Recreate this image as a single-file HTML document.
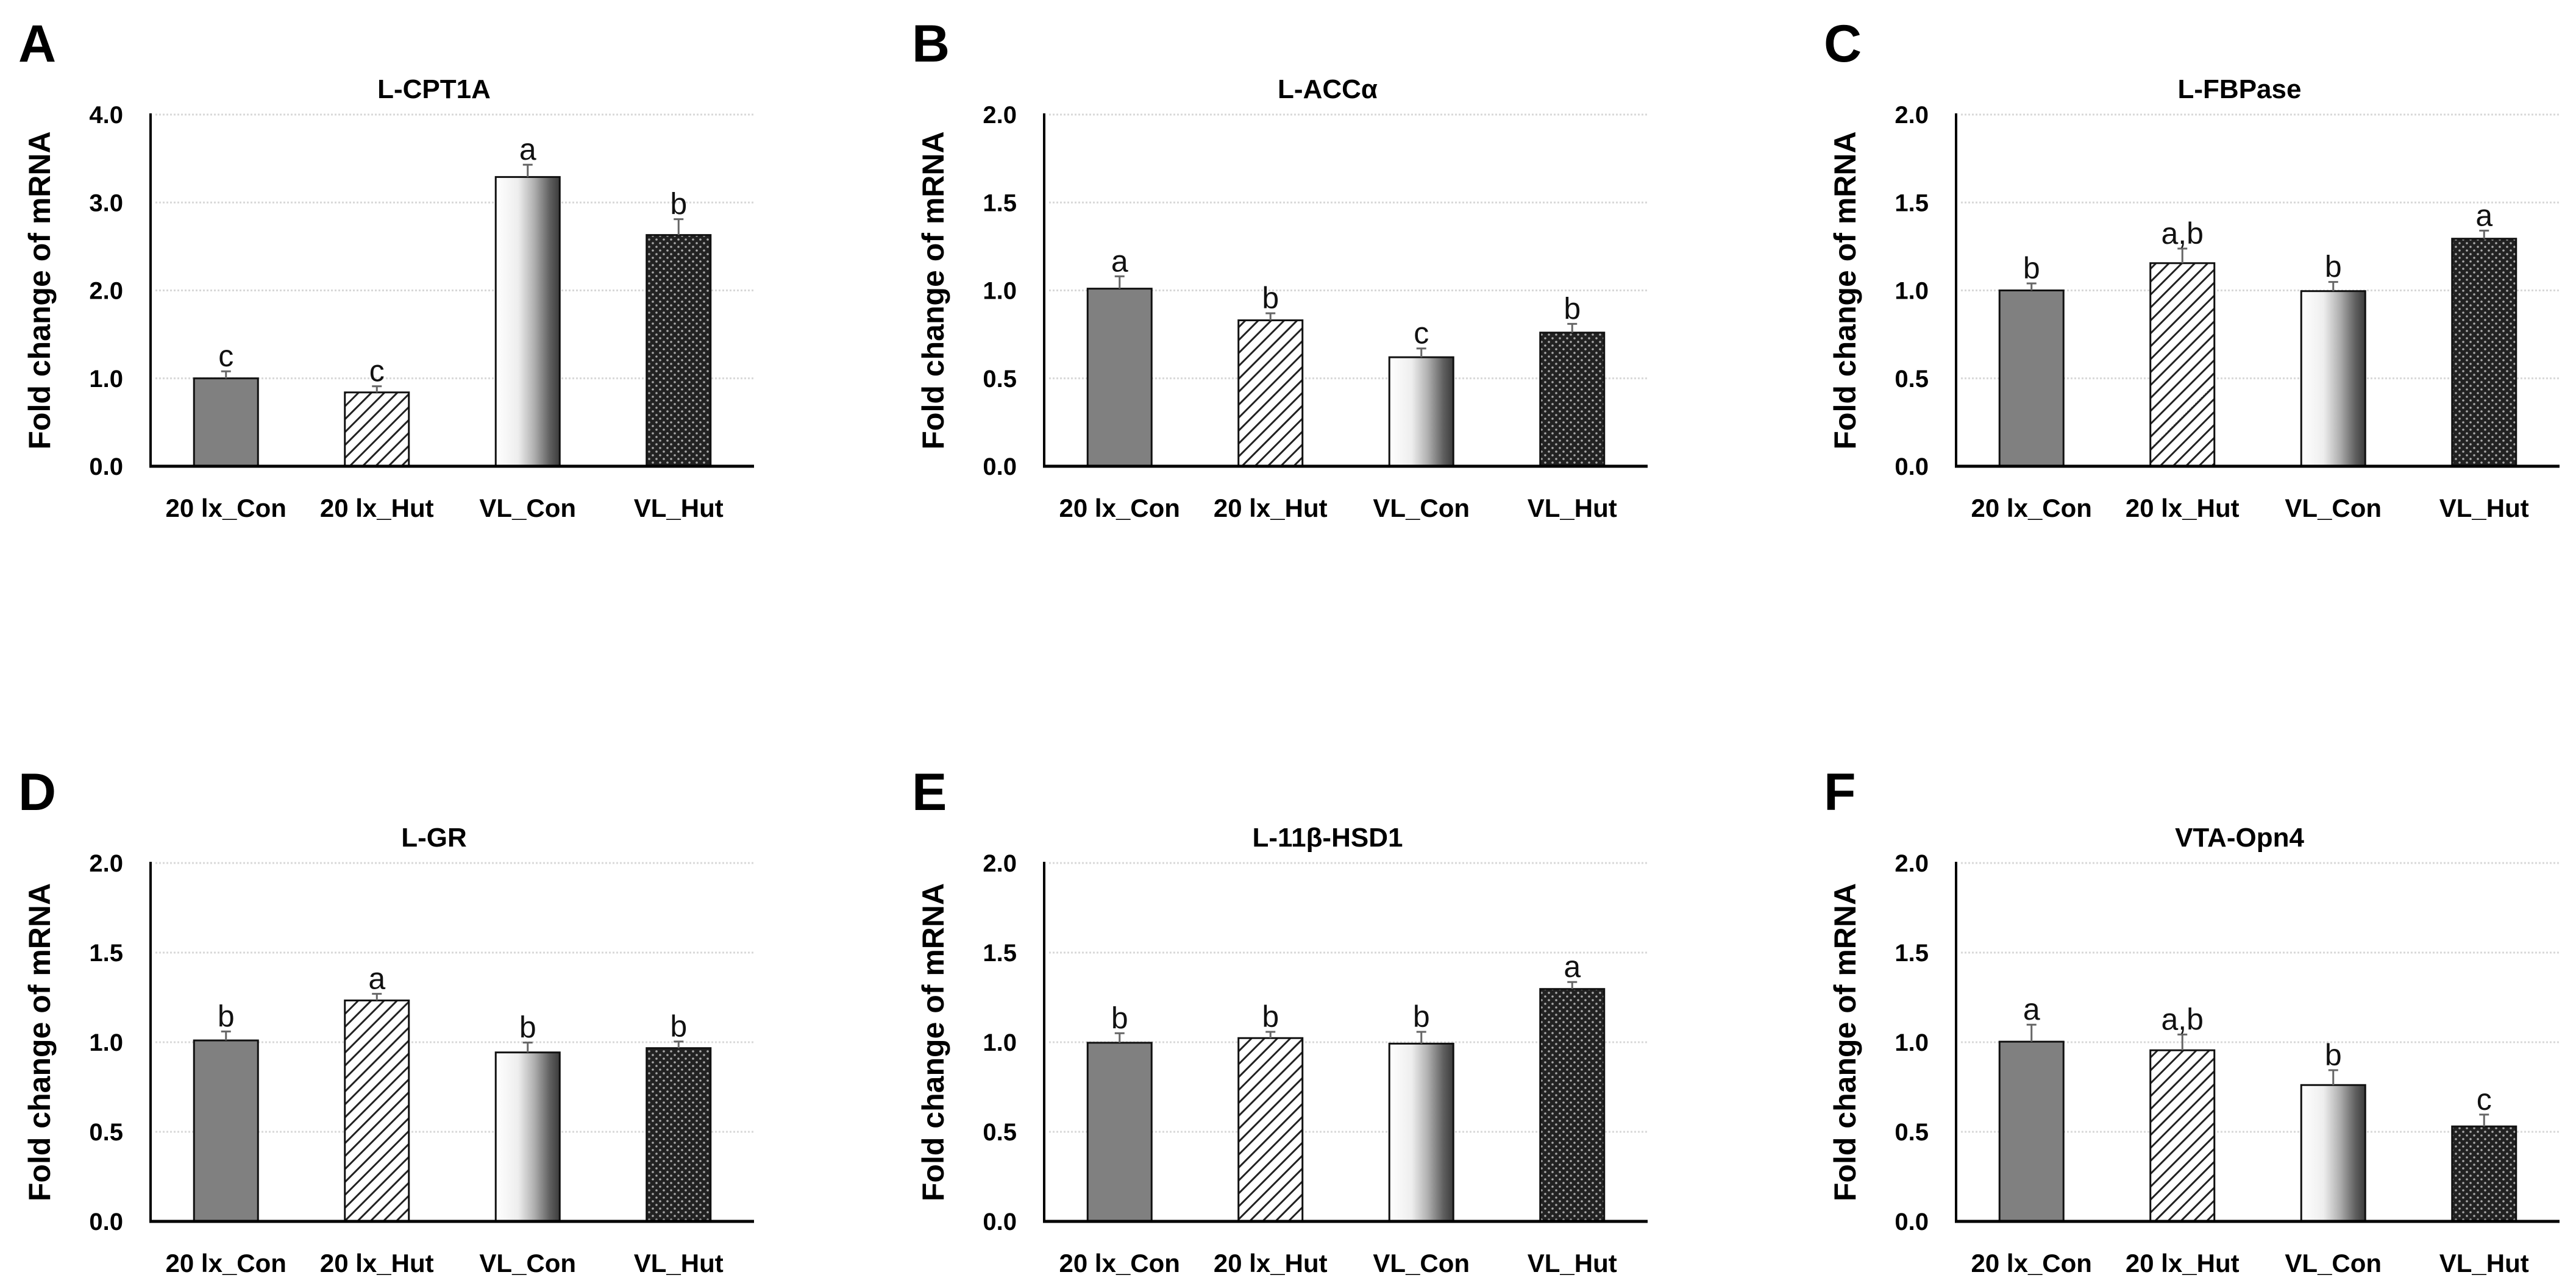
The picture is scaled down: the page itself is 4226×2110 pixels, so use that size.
<!DOCTYPE html>
<html><head><meta charset="utf-8">
<style>
html,body{margin:0;padding:0;background:#fff;}
svg{display:block;}
text{font-family:"Liberation Sans",sans-serif;}
</style></head>
<body>
<svg id="fig" width="4226" height="2110" viewBox="0 0 4226 2110" xmlns="http://www.w3.org/2000/svg">
<defs>
<pattern id="hatch" patternUnits="userSpaceOnUse" width="15" height="15" patternTransform="rotate(45)">
<rect width="15" height="15" fill="#fff"/>
<line x1="0" y1="0" x2="0" y2="15" stroke="#222" stroke-width="6"/>
</pattern>
<pattern id="dots" patternUnits="userSpaceOnUse" width="12" height="12">
<rect width="12" height="12" fill="#222"/>
<circle cx="3" cy="3" r="1.8" fill="#aaa"/>
<circle cx="9" cy="9" r="1.8" fill="#aaa"/>
</pattern>
<linearGradient id="grad" x1="0" y1="0" x2="1" y2="0">
<stop offset="0" stop-color="#ffffff"/>
<stop offset="0.35" stop-color="#eeeeee"/>
<stop offset="0.6" stop-color="#b0b0b0"/>
<stop offset="0.85" stop-color="#5e5e5e"/>
<stop offset="1" stop-color="#3c3c3c"/>
</linearGradient>
</defs>
</svg>
<script>
const categories = ["20 lx_Con", "20 lx_Hut", "VL_Con", "VL_Hut"];
const panelLetters = ["A", "B", "C", "D", "E", "F"];
const panelTitles = ["L-CPT1A", "L-ACCα", "L-FBPase", "L-GR", "L-11β-HSD1", "VTA-Opn4"];
const yMax = [4, 2, 2, 2, 2, 2];
const yStep = [1, 0.5, 0.5, 0.5, 0.5, 0.5];
const valuesA = [1.00, 0.84, 3.29, 2.63];
const errorsA = [0.08, 0.07, 0.14, 0.18];
const valuesB = [1.01, 0.83, 0.62, 0.76];
const errorsB = [0.07, 0.04, 0.05, 0.05];
const valuesC = [1.00, 1.155, 0.996, 1.294];
const errorsC = [0.04, 0.083, 0.052, 0.046];
const valuesD = [1.01, 1.233, 0.943, 0.967];
const errorsD = [0.05, 0.037, 0.055, 0.037];
const valuesE = [0.997, 1.023, 0.992, 1.297];
const errorsE = [0.053, 0.035, 0.066, 0.039];
const valuesF = [1.003, 0.955, 0.761, 0.53];
const errorsF = [0.095, 0.088, 0.083, 0.066];
const lettersA = ["c", "c", "a", "b"];
const lettersB = ["a", "b", "c", "b"];
const lettersC = ["b", "a,b", "b", "a"];
const lettersD = ["b", "a", "b", "b"];
const lettersE = ["b", "b", "b", "a"];
const lettersF = ["a", "a,b", "b", "c"];

const allValues = [valuesA, valuesB, valuesC, valuesD, valuesE, valuesF];
const allErrors = [errorsA, errorsB, errorsC, errorsD, errorsE, errorsF];
const allLetters = [lettersA, lettersB, lettersC, lettersD, lettersE, lettersF];

const NS = "http://www.w3.org/2000/svg";
const svg = document.getElementById("fig");
const colX = [247, 1713, 3209];
const rowTop = [188, 1416];
const rowZero = [765, 2004];
const plotW = 990;
const fills = ["#808080", "url(#hatch)", "url(#grad)", "url(#dots)"];

function mk(tag, attrs, parent) {
  const e = document.createElementNS(NS, tag);
  for (const k in attrs) e.setAttribute(k, attrs[k]);
  (parent || svg).appendChild(e);
  return e;
}

for (let p = 0; p < 6; p++) {
  const col = p % 3, row = Math.floor(p / 3);
  const ax = colX[col], top = rowTop[row], zero = rowZero[row];
  const yS = v => zero - (v / yMax[p]) * (zero - top);
  const xS = i => ax + plotW / 8 + i * plotW / 4;
  const bw = 105;
  const g = mk("g", {});
  
  

  const lt = mk("text", {x: ax - 217, y: top - 87, "font-size": 86, "font-weight": "bold", fill: "#000"}, g);
  lt.textContent = panelLetters[p];
  
  

  const tt = mk("text", {x: ax + plotW / 2 - 30, y: top - 27, "font-size": 44, "font-weight": "bold", "text-anchor": "middle", fill: "#000"}, g);
  tt.textContent = panelTitles[p];
  
  

  const yt = mk("text", {x: 0, y: 0, "font-size": 50, "font-weight": "bold", "text-anchor": "middle", fill: "#000",
    transform: "translate(" + (ax - 165) + "," + ((top + zero) / 2) + ") rotate(-90)"}, g);
  yt.textContent = "Fold change of mRNA";
  
  

  const n = Math.round(yMax[p] / yStep[p]);
  for (let i = 0; i <= n; i++) {
    const v = i * yStep[p];
    const y = yS(v);
    if (i > 0) {
      const gl = mk("line", {x1: ax + 8, x2: ax + plotW, y1: y, y2: y, stroke: "#d8d8d8", "stroke-width": 3, "stroke-dasharray": "3 3"}, g);
      
      
    }
    const tl = mk("text", {x: ax - 45, y: y + 14, "font-size": 40, "font-weight": "bold", "text-anchor": "end", fill: "#000"}, g);
    tl.textContent = v.toFixed(1);
    
    
  }

  const vals = allValues[p], errs = allErrors[p], lets = allLetters[p];
  for (let i = 0; i < 4; i++) {
    const cx = xS(i);
    const yTop = yS(vals[i]);
    const bar = mk("rect", {x: cx - bw / 2, y: yTop, width: bw, height: zero - yTop, fill: fills[i], stroke: "#111", "stroke-width": 3}, g);
    
    
    const ye = yS(vals[i] + errs[i]);
    const eb = mk("path", {d: "M" + cx + " " + yTop + "V" + ye + "M" + (cx - 8) + " " + ye + "H" + (cx + 8), stroke: "#666", "stroke-width": 3, fill: "none"}, g);
    
    
    const sl = mk("text", {x: cx, y: ye - 8, "font-size": 50, "text-anchor": "middle", fill: "#111"}, g);
    sl.textContent = lets[i];
    
    
    const xl = mk("text", {x: cx, y: zero + 83, "font-size": 42, "font-weight": "bold", "text-anchor": "middle", fill: "#000"}, g);
    xl.textContent = categories[i];
    
    
  }

  const yAxis = mk("line", {x1: ax, x2: ax, y1: top - 2, y2: zero, stroke: "#000", "stroke-width": 4}, g);
  
  
  const xAxis = mk("line", {x1: ax - 2, x2: ax + plotW, y1: zero, y2: zero, stroke: "#000", "stroke-width": 5}, g);
  
  
}
</script>
</body></html>
